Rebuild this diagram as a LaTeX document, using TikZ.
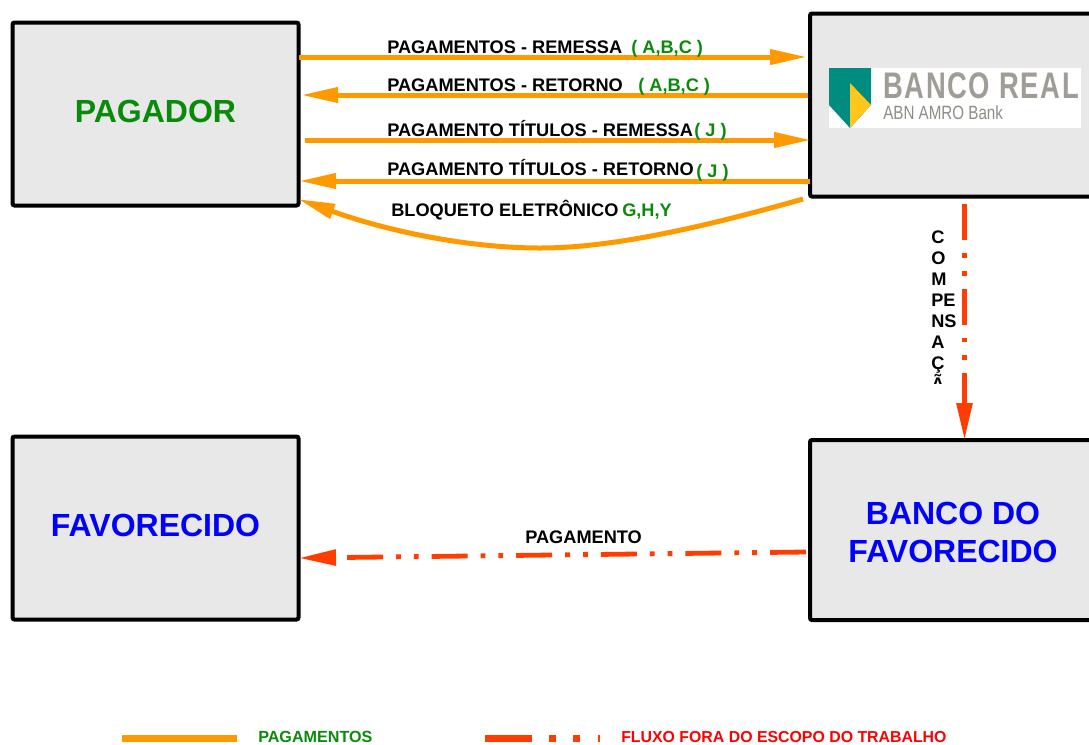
\documentclass[tikz,border=0pt]{standalone}
\usepackage{fontspec}
\setmainfont{Liberation Sans}
\usetikzlibrary{arrows.meta}
\definecolor{boxgray}{HTML}{E8E8E8}
\definecolor{pagorange}{HTML}{FF9900}
\definecolor{forared}{HTML}{FF3D00}
\definecolor{labgreen}{HTML}{0A8A0A}
\definecolor{shieldteal}{HTML}{008C7E}
\definecolor{shieldyellow}{HTML}{FFC61E}
\definecolor{logogray}{HTML}{A09C96}
\tikzset{
	bigbox/.style={draw=black, fill=boxgray, line width=3pt, rounded corners=1.5pt, minimum width=214.5pt, minimum height=137.25pt, inner sep=0pt, font=\fontsize{24}{28.5}\selectfont\bfseries, align=center},
	lab/.style={anchor=base west, inner sep=0pt, font=\fontsize{13.65}{15.75}\selectfont\bfseries},
	pagline/.style={draw=pagorange, line width=3.75pt, -{Triangle[length=27.75pt,width=11pt]}},
	foraline/.style={draw=forared, line width=3.6pt, dash pattern=on 27pt off 9.75pt on 3.6pt off 9.75pt on 3.6pt off 9.75pt, -{Triangle[length=27.75pt,width=11.5pt]}},
	legtext/.style={anchor=base west, inner sep=0pt, font=\bfseries}
}
\begin{document}
\begin{tikzpicture}[x=0.75pt,y=-0.75pt]
	\useasboundingbox (0,0) rectangle (1089,744);
	%% boxes
	\node[bigbox, text=labgreen, text depth=3.75pt] (pagador) at (155.5,114) {PAGADOR};
	\node[bigbox, text=blue, text depth=3.75pt] (favorecido) at (155.5,528) {FAVORECIDO};
	\node[bigbox] (bancoreal) at (953,105) {};
	\node[bigbox, text=blue, minimum height=135pt] (bancofav) at (953,530) {\rule{0pt}{20.5pt}BANCO DO\\FAVORECIDO};
	%% logo
	\node[fill=white, minimum width=189pt, minimum height=45pt, inner sep=0pt] (logo) at (955,98) {};
	\fill[shieldteal] (829,68) -- (871,68) -- (871,105) -- (850,128) -- (829,105) -- cycle;
	\fill[shieldyellow] (850,83) -- (871,105) -- (850,128) -- cycle;
	\node[anchor=base west, inner sep=0pt, text=logogray, font=\fontsize{27.75}{30}\selectfont\bfseries] (logoname) at (883,98) {\scalebox{.74}[1]{\addfontfeature{LetterSpace=6}BANCO REAL}};
	\node[anchor=base west, inner sep=0pt, text=logogray!90!black, font=\fontsize{14.4}{16}\selectfont] (logosub) at (883,119) {\scalebox{.79}[1]{ABN AMRO Bank}};
	%% arrow ends
	\coordinate (remessaA) at (299,57);
	\coordinate (remessaB) at (807,57);
	\coordinate (retornoA) at (808,95);
	\coordinate (retornoB) at (301,95);
	\coordinate (titulosA) at (305,140);
	\coordinate (titulosB) at (811,140);
	\coordinate (titretA) at (810,181);
	\coordinate (titretB) at (299,181);
	\coordinate (bloqA) at (803,199);
	\coordinate (bloqM) at (540,248);
	\coordinate (bloqB) at (298,199);
	\coordinate (compA) at (964.5,204);
	\coordinate (compB) at (964.5,440);
	\coordinate (pagtoA) at (806,552);
	\coordinate (pagtoB) at (299,558);
	%% arrows
	\draw[pagline] (remessaA) -- (remessaB);
	\draw[pagline] (retornoA) -- (retornoB);
	\draw[pagline] (titulosA) -- (titulosB);
	\draw[pagline] (titretA) -- (titretB);
	\draw[pagline] (bloqA) .. controls (680,234) and (600,248) .. (bloqM) .. controls (470,248) and (390,232) .. (bloqB);
	\draw[foraline] (compA) -- (compB);
	\draw[foraline] (pagtoA) -- (pagtoB);
	%% labels
	\node[lab] (lab1) at (387,53) {PAGAMENTOS - REMESSA};
	\node[lab, text=labgreen] (lab1g) at (631,53) {( A,B,C )};
	\node[lab] (lab2) at (387,91) {PAGAMENTOS - RETORNO};
	\node[lab, text=labgreen] (lab2g) at (638,91) {( A,B,C )};
	\node[lab] (lab3) at (387,136) {PAGAMENTO TÍTULOS - REMESSA};
	\node[lab, text=labgreen] (lab3g) at (694,136) {( J )};
	\node[lab] (lab4) at (387,175) {PAGAMENTO TÍTULOS - RETORNO};
	\node[lab, text=labgreen] (lab4g) at (696,177) {( J )};
	\node[lab] (lab5) at (391,216) {BLOQUETO ELETRÔNICO};
	\node[lab, text=labgreen] (lab5g) at (622,216) {G,H,Y};
	\node[lab] (lab6) at (525,543) {PAGAMENTO};
	%% cut off at the bottom as in the box it was typed in
	\begin{scope}
		\clip (925,225) rectangle (962,383);
		\node[lab, anchor=north west, align=left] (lab7) at (931,231) {C\\O\\M\\PE\\NS\\A\\Ç\\Ã};
	\end{scope}
	%% legend
	\coordinate (legA) at (122,738);
	\coordinate (legB) at (237,738);
	\coordinate (legC) at (485,738);
	\coordinate (legD) at (600,738);
	\draw[pagorange, line width=5.25pt] (legA) -- (legB);
	\node[legtext, text=labgreen, font=\fontsize{12.1}{14}\selectfont\bfseries] (legpag) at (258,742.5) {PAGAMENTOS};
	\draw[forared, line width=5.25pt, dash pattern=on 35.25pt off 12.75pt on 5.25pt off 12.75pt on 5.25pt off 13.5pt] (legC) -- (legD);
	\node[legtext, text=red, font=\fontsize{11.9}{14}\selectfont\bfseries] (legfora) at (621,742.5) {FLUXO FORA DO ESCOPO DO TRABALHO};
\end{tikzpicture}
\end{document}
